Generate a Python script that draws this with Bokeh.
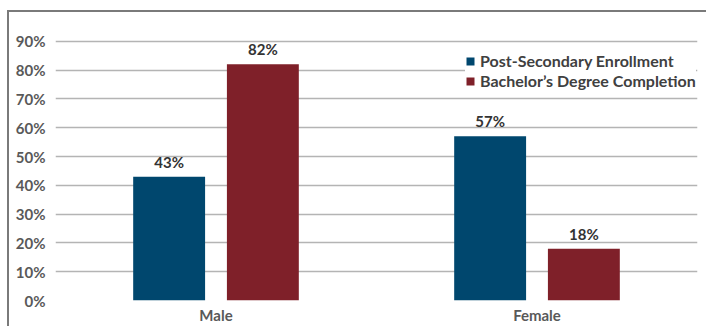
from bokeh.plotting import figure
from bokeh.models import ColumnDataSource, FactorRange, Range1d, PrintfTickFormatter, Legend, LegendItem, FixedTicker
from bokeh.transform import dodge
from bokeh.core.properties import value
from bokeh.embed import file_html
from bokeh.resources import INLINE

categories = ["Male", "Female"]
enrollment = [43, 57]
completion = [82, 18]
series_names = ["Post-Secondary Enrollment", "Bachelor\u2019s Degree Completion"]
y_ticks = [0, 10, 20, 30, 40, 50, 60, 70, 80, 90]

BLUE = "#00476E"
RED = "#7F2029"
FONT = "Lato"

src = ColumnDataSource(dict(
    cat=categories,
    enr=enrollment,
    comp=completion,
    enr_lbl=[f"{v}%" for v in enrollment],
    comp_lbl=[f"{v}%" for v in completion],
))

# the figure is shifted by the page frame (left 7px + border, top 10px + border)
p = figure(width=699, height=316, x_range=FactorRange(*categories, range_padding=0),
           y_range=Range1d(0, 100), output_backend="svg", toolbar_location=None,
           min_border_left=46, min_border_right=11, min_border_top=0, min_border_bottom=28)
p.margin = (10, 0, 0, 7)
p.styles = {"border-top": "2px solid #7a7a7a", "border-left": "2px solid #7a7a7a"}
p.outline_line_color = None
p.background_fill_color = "white"
p.border_fill_color = "white"

r1 = p.vbar(x=dodge("cat", -0.146, range=p.x_range), top="enr", width=0.224, source=src,
            fill_color=BLUE, line_color=None)
r2 = p.vbar(x=dodge("cat", 0.146, range=p.x_range), top="comp", width=0.224, source=src,
            fill_color=RED, line_color=None)

for col, lbl, off in [("enr", "enr_lbl", -0.146), ("comp", "comp_lbl", 0.146)]:
    p.text(x=dodge("cat", off, range=p.x_range), y=col, text=lbl, source=src,
           text_align="center", text_baseline="bottom", y_offset=-6,
           text_font=value(FONT), text_font_style="bold", text_font_size="15px",
           text_color="#333333")

p.xgrid.grid_line_color = None
p.ygrid.grid_line_color = "#b4b4b4"
p.ygrid.grid_line_width = 1.5
p.ygrid.ticker = FixedTicker(ticks=y_ticks)

p.yaxis.ticker = FixedTicker(ticks=y_ticks)
p.yaxis.formatter = PrintfTickFormatter(format="%d%%")
p.yaxis.axis_line_color = None
p.yaxis.major_tick_line_color = None
p.yaxis.minor_tick_line_color = None
p.yaxis.major_tick_out = 0
p.yaxis.minor_tick_out = 0
p.yaxis.major_label_standoff = 10
p.yaxis.major_label_text_font = FONT
p.yaxis.major_label_text_font_style = "bold"
p.yaxis.major_label_text_font_size = "15px"
p.yaxis.major_label_text_color = "#595959"

p.xaxis.axis_line_color = None
p.xaxis.major_tick_line_color = None
p.xaxis.minor_tick_line_color = None
p.xaxis.major_tick_out = 0
p.xaxis.minor_tick_out = 0
p.xaxis.major_label_standoff = 5
p.xaxis.major_label_text_font = FONT
p.xaxis.major_label_text_font_style = "bold"
p.xaxis.major_label_text_font_size = "15px"
p.xaxis.major_label_text_color = "#595959"

legend = Legend(items=[LegendItem(label=series_names[0], renderers=[r1]),
                       LegendItem(label=series_names[1], renderers=[r2])],
                location=(410, 210))
legend.border_line_color = None
legend.background_fill_color = "white"
legend.background_fill_alpha = 1
legend.glyph_width = 10
legend.glyph_height = 10
legend.label_text_font = FONT
legend.label_text_font_style = "bold"
legend.label_text_font_size = "16px"
legend.label_text_color = "#404040"
legend.label_height = 18
legend.spacing = 1
legend.padding = 4
legend.margin = 0
legend.label_standoff = 5
p.add_layout(legend)

open("out.html", "w").write(file_html(p, INLINE))
